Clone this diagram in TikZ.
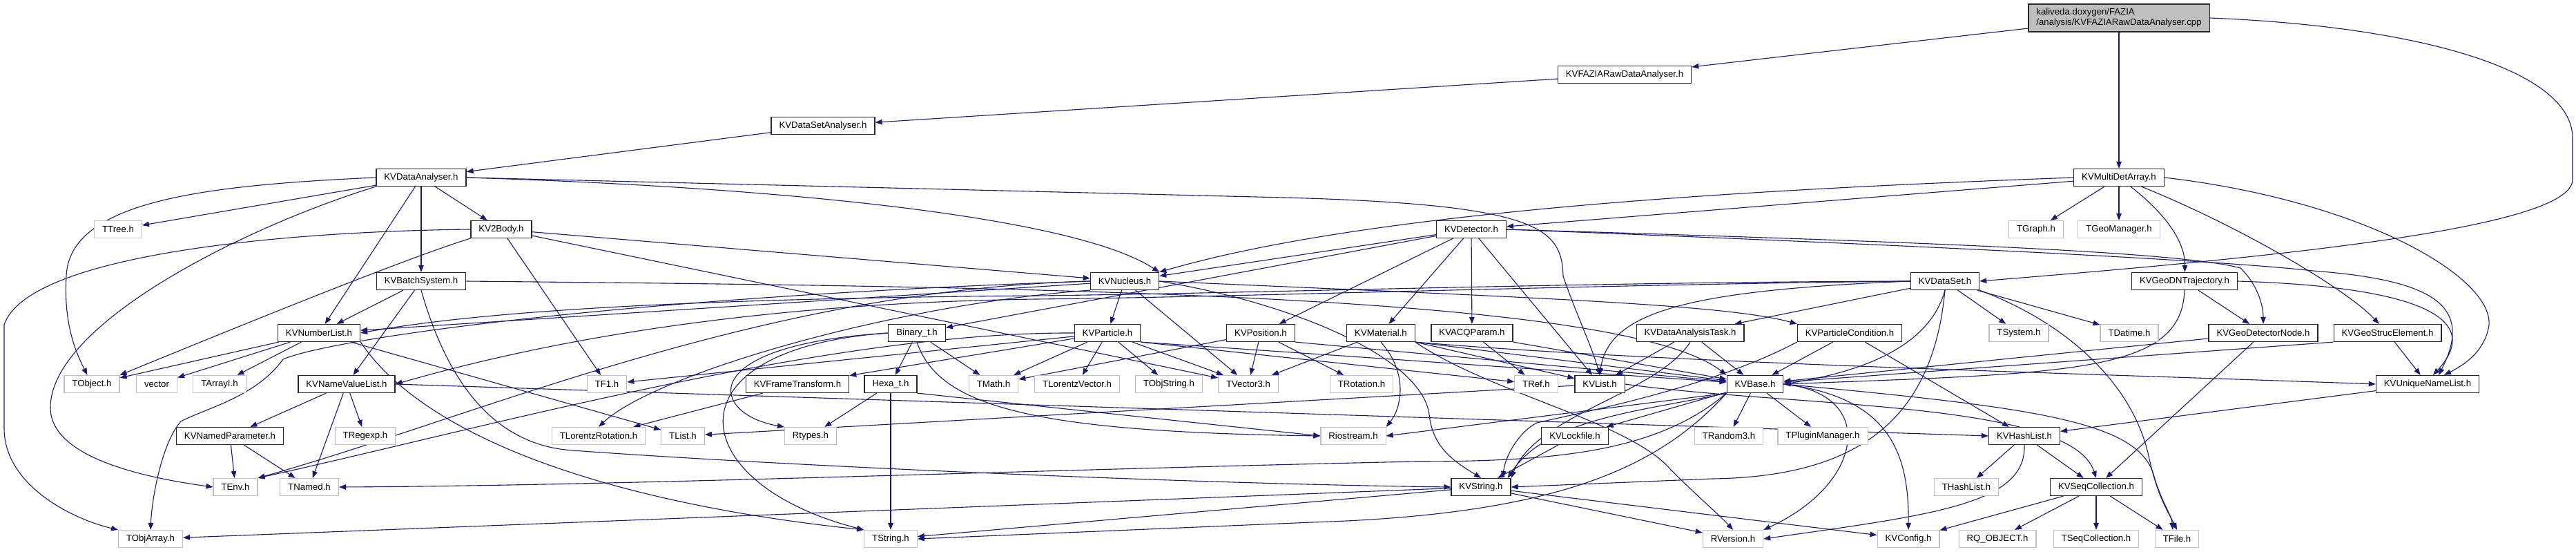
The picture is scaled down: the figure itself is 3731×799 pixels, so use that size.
\documentclass[tikz,border=0pt]{standalone}
\usepackage{fontspec}
\setmainfont{Liberation Sans}
\usetikzlibrary{arrows.meta}
\definecolor{edgeblue}{HTML}{191970}
\definecolor{greyline}{HTML}{BFBFBF}
\definecolor{rootfill}{HTML}{BFBFBF}
\pgfdeclarelayer{bg}
\pgfsetlayers{bg,main}
\tikzset{
  nd/.style={draw=black!85, line width=1.2bp, fill=white, inner xsep=11.5bp, inner ysep=0pt,
    minimum height=25bp, font=\fontsize{13.2bp}{15bp}\selectfont},
  kv/.style={nd},
  ext/.style={nd, draw=greyline},
  rootnode/.style={nd, fill=rootfill, align=left, minimum height=40bp},
  ar/.style={draw=edgeblue, line width=1.1bp, -{Triangle[length=10bp,width=7.5bp]}},
}
\begin{document}
\begin{tikzpicture}[x=1bp,y=-1bp]
\useasboundingbox (0,0) rectangle (3731,799);
% ---------- nodes ----------
\node[rootnode] (root) at (3069,26) {kaliveda.doxygen/FAZIA\\/analysis/KVFAZIARawDataAnalyser.cpp};
\node[kv] (fazia) at (2353,108) {KVFAZIARawDataAnalyser.h};
\node[kv] (dsa) at (1192,182) {KVDataSetAnalyser.h};
\node[kv] (da) at (610,257) {KVDataAnalyser.h};
\node[kv] (mda) at (3069,257) {KVMultiDetArray.h};
\node[ext] (ttree) at (171,332) {TTree.h};
\node[kv] (kv2body) at (726,332) {KV2Body.h};
\node[kv] (det) at (2131,332) {KVDetector.h};
\node[ext] (tgraph) at (2949,332) {TGraph.h};
\node[ext] (tgeoman) at (3069,332) {TGeoManager.h};
\node[kv] (batch) at (610,407) {KVBatchSystem.h};
\node[kv] (nucl) at (1629,407) {KVNucleus.h};
\node[kv] (dataset) at (2817,407) {KVDataSet.h};
\node[kv] (geodn) at (3164,407) {KVGeoDNTrajectory.h};
\node[kv] (numlist) at (462,482) {KVNumberList.h};
\node[kv] (binary) at (1328,482) {Binary\_t.h};
\node[kv] (particle) at (1604,482) {KVParticle.h};
\node[kv] (position) at (1826,482) {KVPosition.h};
\node[kv] (material) at (2000,482) {KVMaterial.h};
\node[kv] (acq) at (2132,482) {KVACQParam.h};
\node[kv] (dat) at (2448,482) {KVDataAnalysisTask.h};
\node[kv] (partcond) at (2679,482) {KVParticleCondition.h};
\node[ext] (tsystem) at (2924,482) {TSystem.h};
\node[ext] (tdatime) at (3084,482) {TDatime.h};
\node[kv] (geodet) at (3278,482) {KVGeoDetectorNode.h};
\node[kv] (geostruc) at (3458,482) {KVGeoStrucElement.h};
\node[ext] (tobject) at (133,556) {TObject.h};
\node[ext] (vector) at (227,556) {vector};
\node[ext] (tarrayi) at (318,556) {TArrayI.h};
\node[kv] (nvl) at (502,556) {KVNameValueList.h};
\node[ext] (tf1) at (879,556) {TF1.h};
\node[kv] (framet) at (1155,556) {KVFrameTransform.h};
\node[kv] (hexa) at (1290,556) {Hexa\_t.h};
\node[ext] (tmath) at (1439,556) {TMath.h};
\node[ext] (tlv) at (1560,556) {TLorentzVector.h};
\node[ext] (tobjstr) at (1693,556) {TObjString.h};
\node[ext] (tvec3) at (1808,556) {TVector3.h};
\node[ext] (trot) at (1972,556) {TRotation.h};
\node[ext] (tref) at (2225,556) {TRef.h};
\node[kv] (kvlist) at (2317,556) {KVList.h};
\node[kv] (kvbase) at (2542,556) {KVBase.h};
\node[kv] (uniq) at (3516,556) {KVUniqueNameList.h};
\node[kv] (nparam) at (333,631) {KVNamedParameter.h};
\node[ext] (tregexp) at (529,631) {TRegexp.h};
\node[ext] (tlrot) at (867,631) {TLorentzRotation.h};
\node[ext] (tlist) at (989,631) {TList.h};
\node[ext] (rtypes) at (1174,631) {Rtypes.h};
\node[ext] (riostream) at (1960,631) {Riostream.h};
\node[kv] (lockfile) at (2281,631) {KVLockfile.h};
\node[ext] (trandom3) at (2504,631) {TRandom3.h};
\node[ext] (tplugin) at (2640,631) {TPluginManager.h};
\node[kv] (hashlist) at (2932,631) {KVHashList.h};
\node[ext] (tenv) at (341,705) {TEnv.h};
\node[ext] (tnamed) at (448,705) {TNamed.h};
\node[kv] (kvstring) at (2145,705) {KVString.h};
\node[ext] (thashlist) at (2848,705) {THashList.h};
\node[kv] (seqcoll) at (3036,705) {KVSeqCollection.h};
\node[ext] (tobjarray) at (218,780) {TObjArray.h};
\node[ext] (tstring) at (1290,780) {TString.h};
\node[ext] (rversion) at (2510,780) {RVersion.h};
\node[ext] (kvconfig) at (2764,780) {KVConfig.h};
\node[ext] (rqobject) at (2893,780) {RQ\_OBJECT.h};
\node[ext] (tseqcoll) at (3036,780) {TSeqCollection.h};
\node[ext] (tfile) at (3153,780) {TFile.h};
% ---------- edges ----------
\begin{pgfonlayer}{bg}
% root
\draw[ar] (root) -- (fazia);
\draw[ar] (root) -- (mda);
\draw[ar] (root.east) .. controls (3500,38) and (3726,100) .. (3726,200) -- (3726,260) .. controls (3726,330) and (3300,372) .. (dataset.east);
\draw[ar] (fazia) -- (dsa);
\draw[ar] (dsa) -- (da);
% KVDataAnalyser
\draw[ar] (da) -- (ttree);
\draw[ar] (da.west) .. controls (300,268) and (100,290) .. (96,400) .. controls (92,470) and (110,510) .. (tobject);
\draw[ar] (da.south west) .. controls (350,330) and (73,470) .. (73,590) .. controls (73,660) and (200,690) .. (tenv.west);
\draw[ar] (da) -- (numlist);
\draw[ar] (da) -- (batch);
\draw[ar] (da) -- (kv2body);
\draw[ar] (da.east) .. controls (1100,270) and (1550,310) .. (nucl.north east);
\draw[ar] (da.east) -- (1860,286) .. controls (2230,296) and (2262,330) .. (2264,400) .. controls (2285,460) and (2305,500) .. (kvlist.north);
% KV2Body
\draw[ar] (kv2body.west) .. controls (400,335) and (40,370) .. (6,470) -- (6,620) .. controls (6,700) and (100,750) .. (tobjarray.north west);
\draw[ar] (kv2body.south west) .. controls (600,370) and (400,450) .. (tobject.north east);
\draw[ar] (kv2body) -- (tf1);
\draw[ar] (kv2body) -- (nucl);
\draw[ar] (kv2body) -- (tvec3);
% KVBatchSystem
\draw[ar] (batch) -- (numlist);
\draw[ar] (batch) -- (nvl);
\draw[ar] (batch.south) .. controls (650,560) and (720,645) .. (830,652) .. controls (1100,672) and (1700,700) .. (kvstring.west);
\draw[ar] (batch.east) .. controls (1500,415) and (2350,425) .. (kvbase.north west);
% KVNumberList
\draw[ar] (numlist) -- (tobject);
\draw[ar] (numlist) -- (vector);
\draw[ar] (numlist) -- (tarrayi);
\draw[ar] (numlist) -- (tlist);
\draw[ar] (numlist.south east) .. controls (620,640) and (900,730) .. (tstring.north west);
% KVNameValueList
\draw[ar] (nvl) -- (nparam);
\draw[ar] (nvl) -- (tnamed);
\draw[ar] (nvl) -- (tregexp);
\draw[ar] (nvl.east) -- (hashlist.west);
\draw[ar] (nparam) -- (tenv);
\draw[ar] (nparam) -- (tnamed);
% KVNucleus
\draw[ar] (nucl) -- (particle);
\draw[ar] (nucl) -- (tvec3);
\draw[ar] (nucl) -- (numlist);
\draw[ar] (nucl.west) .. controls (1100,420) and (700,600) .. (tenv.north east);
\draw[ar] (nucl.south west) .. controls (1300,440) and (950,540) .. (tlrot.north);
\draw[ar] (nucl.west) .. controls (900,430) and (480,490) .. (410,520) .. controls (370,575) and (300,590) .. (262,610) .. controls (235,640) and (220,720) .. (tobjarray.north);
\draw[ar] (nucl.east) .. controls (2200,430) and (2500,440) .. (partcond.north west);
\draw[ar] (nucl.east) .. controls (1880,440) and (2060,520) .. (2070,600) .. controls (2075,650) and (2110,670) .. (kvstring.north);
% KVParticle
\draw[ar] (particle) -- (tmath);
\draw[ar] (particle) -- (tlv);
\draw[ar] (particle) -- (tobjstr);
\draw[ar] (particle) -- (tvec3);
\draw[ar] (particle) -- (framet);
\draw[ar] (particle) -- (tf1);
\draw[ar] (particle.west) .. controls (1200,480) and (700,620) .. (tenv.north east);
\draw[ar] (particle.south east) -- (tref);
\draw[ar] (particle.south east) -- (kvbase);
\draw[ar] (framet) -- (tlrot);
% Binary_t / Hexa_t
\draw[ar] (binary) -- (hexa);
\draw[ar] (binary) -- (tmath);
\draw[ar] (binary.west) .. controls (1000,500) and (1030,600) .. (rtypes.north west);
\draw[ar] (binary.west) .. controls (960,505) and (990,700) .. (tstring.north west);
\draw[ar] (binary.south) .. controls (1360,590) and (1500,625) .. (riostream.west);
\draw[ar] (hexa) -- (rtypes);
\draw[ar] (hexa) -- (tstring);
\draw[ar] (hexa.south east) -- (riostream.west);
% KVPosition
\draw[ar] (position) -- (tvec3);
\draw[ar] (position) -- (tmath);
\draw[ar] (position) -- (trot);
\draw[ar] (position.south east) -- (kvbase);
% KVMaterial
\draw[ar] (material) -- (tvec3);
\draw[ar] (material.south) .. controls (2040,540) and (2030,590) .. (riostream.north east);
\draw[ar] (material.south east) .. controls (2160,570) and (2360,610) .. (2420,680) .. controls (2460,720) and (2490,745) .. (rversion.north);
\draw[ar] (material.south east) -- (kvlist);
\draw[ar] (material.south east) -- (kvbase);
\draw[ar] (material.south east) .. controls (2400,525) and (3000,540) .. (uniq.west);
% KVACQParam / task / condition
\draw[ar] (acq) -- (tref);
\draw[ar] (acq.south east) -- (kvbase);
\draw[ar] (dat) -- (kvlist);
\draw[ar] (dat) -- (kvbase);
\draw[ar] (dat.south) .. controls (2400,570) and (2225,600) .. (kvstring.north east);
\draw[ar] (partcond) -- (kvbase);
\draw[ar] (partcond) -- (hashlist);
\draw[ar] (partcond.south west) .. controls (2480,560) and (2300,595) .. (2226,612) .. controls (2200,625) and (2180,660) .. ([xshift=-12bp]kvstring.north east);
% KVList
\draw[ar] (kvlist) -- (tlist);
\draw[ar] (kvlist.east) .. controls (2600,590) and (3000,580) .. (seqcoll.north);
% KVBase
\draw[ar] (kvbase) -- (lockfile);
\draw[ar] (kvbase) -- (trandom3);
\draw[ar] (kvbase) -- (tplugin);
\draw[ar] (kvbase.south west) .. controls (2380,595) and (2240,605) .. ([xshift=-5bp]kvstring.north east);
\draw[ar] (kvbase.south west) -- (riostream.east);
\draw[ar] (kvbase.south west) .. controls (2400,680) and (2250,745) .. (1900,756) -- (tstring.east);
\draw[ar] (kvbase.south west) .. controls (2400,655) and (2250,668) .. (2050,668) .. controls (1500,680) and (900,703) .. (tnamed.east);
\draw[ar] (kvbase.east) .. controls (2720,570) and (2700,700) .. (rversion.north east);
\draw[ar] (kvbase.east) .. controls (2740,575) and (2765,660) .. (kvconfig.north);
\draw[ar] (kvbase.east) .. controls (2950,590) and (3100,610) .. (3120,690) .. controls (3130,725) and (3145,745) .. ([xshift=-6bp]tfile.north);
% KVHashList / KVSeqCollection
\draw[ar] (hashlist) -- (thashlist);
\draw[ar] (hashlist) -- (seqcoll);
\draw[ar] (hashlist.south) .. controls (2935,730) and (2800,745) .. (rversion.east);
\draw[ar] (seqcoll) -- (kvconfig);
\draw[ar] (seqcoll) -- (rqobject);
\draw[ar] (seqcoll) -- (tseqcoll);
\draw[ar] (seqcoll) -- (tfile);
% KVString
\draw[ar] (kvstring) -- (tstring);
\draw[ar] (kvstring) -- (tobjarray);
\draw[ar] (kvstring) -- (rversion);
\draw[ar] (kvstring) -- (kvconfig);
\draw[ar] (lockfile) -- (kvstring);
% unique name list / geometry
\draw[ar] (uniq) -- (hashlist);
\draw[ar] (geodn.south) .. controls (3160,540) and (3000,540) .. (kvbase.east);
\draw[ar] (geodn) -- (geodet);
\draw[ar] (geodn.east) .. controls (3500,415) and (3600,460) .. ([xshift=8bp]uniq.north);
\draw[ar] (geodet) -- (kvbase);
\draw[ar] (geodet) -- (seqcoll);
\draw[ar] (geostruc.south west) -- (kvbase);
\draw[ar] (geostruc) -- (uniq);
% KVMultiDetArray
\draw[ar] (mda.west) .. controls (2600,272) and (2000,300) .. (nucl.north east);
\draw[ar] (mda) -- (det);
\draw[ar] (mda) -- (tgraph);
\draw[ar] (mda) -- (tgeoman);
\draw[ar] (mda) .. controls (3150,320) and (3165,360) .. (geodn);
\draw[ar] (mda) .. controls (3250,330) and (3400,420) .. (geostruc);
\draw[ar] (mda.east) .. controls (3420,290) and (3610,400) .. (3605,470) .. controls (3600,505) and (3575,525) .. ([xshift=24bp]uniq.north);
% KVDetector
\draw[ar] (det) -- (nucl);
\draw[ar] (det) -- (binary);
\draw[ar] (det) -- (position);
\draw[ar] (det) -- (material);
\draw[ar] (det) -- (acq);
\draw[ar] (det) -- (kvlist);
\draw[ar] (det.east) .. controls (2700,348) and (3150,362) .. (3245,388) .. controls (3268,410) and (3278,440) .. (geodet.north);
\draw[ar] (det.east) .. controls (2700,352) and (3200,375) .. (3350,392) .. controls (3520,405) and (3585,440) .. ([xshift=16bp]uniq.north);
% KVDataSet
\draw[ar] (dataset) -- (dat);
\draw[ar] (dataset) -- (tsystem);
\draw[ar] (dataset) -- (tdatime);
\draw[ar] (dataset.south) .. controls (2790,520) and (2650,545) .. (kvbase.east);
\draw[ar] (dataset.south) .. controls (2800,600) and (2700,690) .. (2480,693) -- (kvstring.east);
\draw[ar] (dataset.south east) .. controls (3000,470) and (3090,560) .. (3112,660) .. controls (3125,720) and (3140,740) .. (tfile.north);
\draw[ar] (dataset.west) .. controls (2450,420) and (2330,450) .. (kvlist.north);
\draw[ar] (dataset.west) .. controls (2300,408) and (1800,425) .. (1500,428) .. controls (1000,432) and (700,450) .. (numlist.east);
\draw[ar] (dataset.west) .. controls (2300,412) and (1800,430) .. (1500,433) .. controls (1000,440) and (700,520) .. (nvl.east);
\end{pgfonlayer}
\end{tikzpicture}
\end{document}
